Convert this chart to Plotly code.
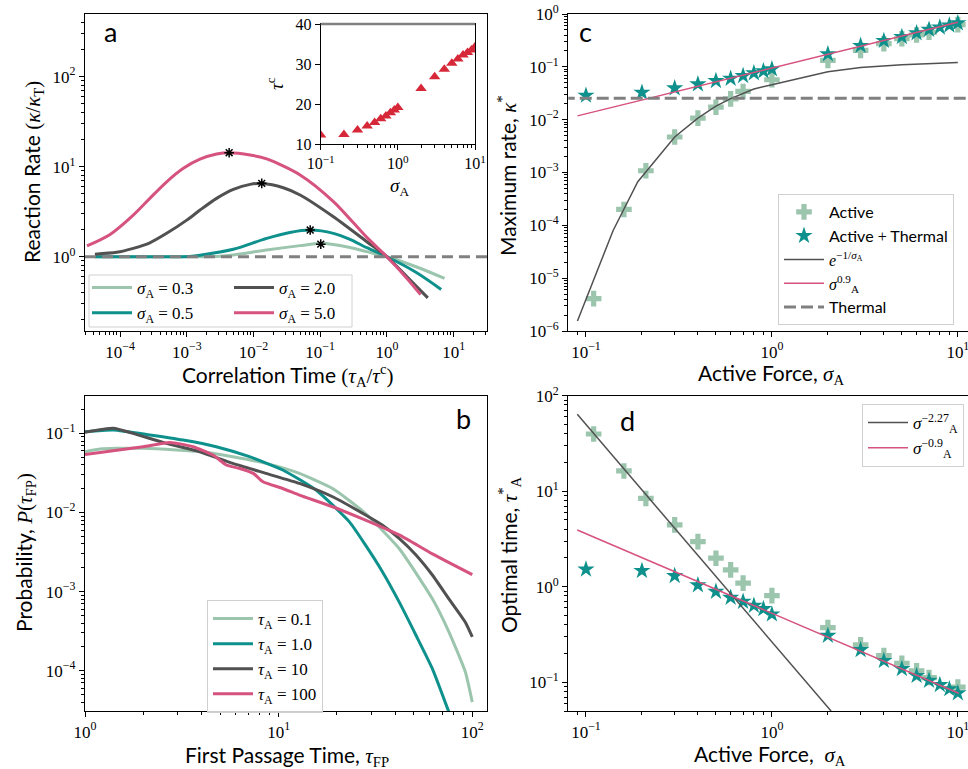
import plotly.graph_objects as go

W, H = 968, 769
SERIF = "Liberation Serif"
SANS = "Lato"

SAGE = "#9cc5ae"
TEAL = "#0e918c"
GRAY = "#515151"
PINK = "#d6527f"
RED = "#d62839"
DASHC = "#808080"

# ---------------- panel a: reaction rate vs correlation time ----------------
a_sigma_labels = ["0.3", "0.5", "2.0", "5.0"]
a_x_s03 = [4.2e-5, 1.0e-3, 2.8e-3, 4.5e-3, 1.58e-2, 5.0e-2, 0.1, 0.158, 0.28, 0.5, 1.0, 2.8, 7.3]
a_y_s03 = [1.0, 1.0, 1.01, 1.04, 1.19, 1.33, 1.41, 1.37, 1.27, 1.14, 1.0, 0.77, 0.575]
a_x_s05 = [4.2e-5, 1.1e-3, 1.58e-3, 5.0e-3, 1.58e-2, 3.5e-2, 7.1e-2, 0.158, 0.28, 0.5, 1.0, 2.8, 6.5]
a_y_s05 = [1.0, 1.01, 1.04, 1.21, 1.6, 1.86, 1.98, 1.82, 1.56, 1.26, 1.0, 0.665, 0.434]
a_x_s20 = [4.2e-5, 8.9e-5, 1.58e-4, 2.8e-4, 5.0e-4, 1.0e-3, 1.58e-3, 2.8e-3, 5.0e-3, 8.9e-3,
           1.33e-2, 2.8e-2, 5.0e-2, 0.158, 0.5, 1.0, 2.0, 4.1]
a_y_s20 = [1.07, 1.12, 1.24, 1.43, 1.82, 2.55, 3.3, 4.45, 5.6, 6.36,
           6.5, 5.84, 4.85, 2.78, 1.47, 1.0, 0.6, 0.35]
a_x_s50 = [3.2e-5, 7.1e-5, 1.58e-4, 2.8e-4, 5.0e-4, 8.9e-4, 1.58e-3, 2.8e-3, 4.3e-3, 8.9e-3,
           1.58e-2, 5.0e-2, 0.158, 0.5, 1.0, 2.0, 3.2]
a_y_s50 = [1.32, 1.77, 2.9, 4.45, 6.8, 9.6, 12.1, 13.8, 14.3, 13.5,
           12.2, 8.1, 4.1, 1.64, 1.0, 0.575, 0.38]
a_peak_x = [0.102, 0.0708, 0.0133, 0.00432]
a_peak_y = [1.38, 1.98, 6.53, 14.3]
a_thermal = 1.0

# inset: crossover time vs active force
inset_sigma = [0.1, 0.2, 0.3, 0.4, 0.5, 0.6, 0.7, 0.8, 0.9, 1.0, 2, 3, 4, 5, 6, 7, 8, 9, 10]
inset_tau_c = [12.25, 12.4, 13.5, 14.5, 15.4, 16.3, 17.0, 17.8, 18.5, 19.1,
               23.9, 26.8, 28.7, 30.2, 31.25, 32.25, 32.9, 33.5, 34.3]

# ---------------- panel b: first passage time distributions ----------------
b_tau_labels = ["0.1", "1.0", "10", "100"]
b_x_t01 = [1, 1.2, 1.46, 2.0, 2.97, 3.9, 5.8, 8.6, 12.8, 19, 28.1, 41.9, 62.2, 75.7, 92.1, 100]
b_y_t01 = [0.0586, 0.0634, 0.0646, 0.0646, 0.0617, 0.0589, 0.0507, 0.0417, 0.0312, 0.0201,
           0.0097, 0.0035, 8.1e-4, 3.1e-4, 9.6e-5, 4.0e-5]
b_x_t1 = [1, 1.4, 2.16, 3.21, 4.76, 7.07, 10.5, 15.6, 23.2, 28.1, 34.4, 41.9, 51.2, 62.2, 75.7, 83]
b_y_t1 = [0.105, 0.110, 0.0955, 0.0824, 0.0678, 0.0507, 0.0344, 0.0192, 0.0076, 0.00386,
          0.00177, 7.4e-4, 2.8e-4, 1.06e-4, 3.0e-5, 1.66e-5]
b_x_t10 = [1, 1.4, 1.77, 2.63, 3.91, 5.8, 8.6, 12.8, 19, 28.1, 34.4, 41.9, 51.2, 62.2, 75.7, 92.1, 100]
b_y_t10 = [0.103, 0.116, 0.1, 0.0746, 0.0586, 0.0417, 0.0312, 0.0233, 0.0158, 0.0093,
           0.0069, 0.0047, 0.0029, 0.00162, 8.1e-4, 4.1e-4, 2.67e-4]
b_x_t100 = [1, 1.46, 2.0, 2.74, 3.61, 4.58, 5.37, 6.3, 7.4, 8.3, 10.5, 12.8, 19, 28.1, 41.9, 62.2, 100]
b_y_t100 = [0.054, 0.061, 0.0678, 0.0769, 0.0678, 0.0532, 0.0398, 0.036, 0.0312, 0.0244,
            0.0201, 0.0166, 0.0118, 0.0080, 0.0052, 0.0030, 0.00164]

# ---------------- panel c: maximum rate vs active force ----------------
active_sigma = [0.11, 0.16, 0.21, 0.3, 0.4, 0.5, 0.6, 0.7, 1.0, 2, 3, 4, 5, 6, 7, 10]
active_kappa = [4.1e-6, 2.0e-4, 1.08e-3, 4.7e-3, 1.07e-2, 1.72e-2, 2.48e-2, 3.42e-2, 5.7e-2,
                0.132, 0.205, 0.274, 0.34, 0.40, 0.45, 0.63]
both_sigma = [0.1, 0.2, 0.3, 0.4, 0.5, 0.6, 0.7, 0.8, 0.9, 1.0, 2, 3, 4, 5, 6, 7, 8, 9, 10]
both_kappa = [0.0287, 0.0327, 0.0395, 0.047, 0.0544, 0.060, 0.0676, 0.076, 0.083, 0.0906,
              0.174, 0.251, 0.312, 0.37, 0.436, 0.505, 0.558, 0.609, 0.675]
arrh_sigma = [0.09, 0.14, 0.19, 0.3, 0.4, 0.5, 0.6, 0.7, 0.8, 1.0, 2, 3, 5, 10]
arrh_kappa = [1.55e-6, 8.0e-5, 6.7e-4, 4.7e-3, 1.07e-2, 1.8e-2, 2.5e-2, 3.1e-2, 3.8e-2, 4.6e-2,
              8.1e-2, 9.7e-2, 0.11, 0.121]
pow_sigma = [0.09, 10.0]
pow_kappa = [0.0118, 0.695]
thermal_kappa = 0.0255

# ---------------- panel d: optimal time vs active force ----------------
active_tau = [39.7, 16.3, 8.4, 4.44, 2.97, 1.99, 1.50, 1.09, 0.807,
              0.373, 0.246, 0.19, 0.158, 0.132, 0.112, 0.089]
both_tau = [1.52, 1.47, 1.30, 1.04, 0.89, 0.77, 0.70, 0.635, 0.586, 0.515,
            0.308, 0.218, 0.168, 0.138, 0.117, 0.104, 0.094, 0.085, 0.077]
fit227_sigma = [0.0898, 2.08]
fit227_tau = [63.8, 0.05]
fit09_sigma = [0.0898, 10.1]
fit09_tau = [3.93, 0.0767]


def X(px):
    return px / W


def Y(py):
    return 1 - py / H


def sup(e):
    return "10<sup>" + (("\u2212" + str(-e)) if e < 0 else str(e)) + "</sup>"


def log_axis(lo_dec, hi_dec, rng, domain, anchor, label_size=17):
    majors = [10.0 ** e for e in range(lo_dec, hi_dec + 1)]
    minors = [m * 10.0 ** e for e in range(lo_dec - 1, hi_dec + 1) for m in range(2, 10)]
    return dict(
        type="log", range=rng, domain=domain, anchor=anchor,
        tickmode="array", tickvals=majors, ticktext=[sup(e) for e in range(lo_dec, hi_dec + 1)],
        ticks="outside", ticklen=5, tickwidth=1.2, tickcolor="black",
        minor=dict(tickmode="array", tickvals=minors, ticks="outside", ticklen=3,
                   tickwidth=1, tickcolor="black", showgrid=False),
        showline=True, linecolor="black", linewidth=1.2, mirror=True,
        showgrid=False, zeroline=False, automargin=False, ticklabeloverflow="allow",
        tickfont=dict(family=SERIF, size=label_size, color="black"),
    )


fig = go.Figure()

# ----- panel a traces -----
a_series = [(a_x_s03, a_y_s03, SAGE, "legend", 1), (a_x_s05, a_y_s05, TEAL, "legend", 2),
            (a_x_s20, a_y_s20, GRAY, "legend2", 3), (a_x_s50, a_y_s50, PINK, "legend2", 4)]
for (xs, ys, col, lg, rk), lab in zip(a_series, a_sigma_labels):
    fig.add_trace(go.Scatter(x=xs, y=ys, mode="lines", line=dict(color=col, width=3, shape="spline", smoothing=0.8),
                             name="<i>σ</i><sub>A</sub> = " + lab, legend=lg, legendrank=rk,
                             xaxis="x", yaxis="y"))
fig.add_trace(go.Scatter(x=[2.98e-5, 31.6], y=[a_thermal, a_thermal], mode="lines",
                         line=dict(color=DASHC, width=3, dash="11px,6px"), showlegend=False,
                         xaxis="x", yaxis="y"))
fig.add_trace(go.Scatter(x=a_peak_x, y=a_peak_y, mode="markers",
                         marker=dict(symbol="asterisk-open", size=8, color="black",
                                     line=dict(color="black", width=1.5)),
                         showlegend=False, xaxis="x", yaxis="y"))

# inset
fig.add_trace(go.Scatter(x=inset_sigma, y=inset_tau_c, mode="markers",
                         marker=dict(symbol="triangle-up", size=10, color=RED),
                         showlegend=False, xaxis="x5", yaxis="y5"))

# ----- panel b traces -----
b_series = [(b_x_t01, b_y_t01, SAGE), (b_x_t1, b_y_t1, TEAL), (b_x_t10, b_y_t10, GRAY), (b_x_t100, b_y_t100, PINK)]
for (xs, ys, col), lab in zip(b_series, b_tau_labels):
    fig.add_trace(go.Scatter(x=xs, y=ys, mode="lines", line=dict(color=col, width=3, shape="spline", smoothing=0.5),
                             name="<i>τ</i><sub>A</sub> = " + lab, legend="legend3",
                             xaxis="x2", yaxis="y2"))

# ----- panel c traces -----
fig.add_trace(go.Scatter(x=active_sigma, y=active_kappa, mode="markers", name="Active",
                         marker=dict(symbol="cross", size=13, color=SAGE), legend="legend4",
                         xaxis="x3", yaxis="y3"))
fig.add_trace(go.Scatter(x=both_sigma, y=both_kappa, mode="markers",
                         name="Active <span style='font-family:Liberation Serif'>+</span> Thermal",
                         marker=dict(symbol="star", size=13, color=TEAL), legend="legend4",
                         xaxis="x3", yaxis="y3"))
fig.add_trace(go.Scatter(x=arrh_sigma, y=arrh_kappa, mode="lines",
                         name="<span style='font-family:Liberation Serif'><i>e</i><sup>−1/<i>σ</i><sub>A</sub></sup></span>",
                         line=dict(color=GRAY, width=1.5), legend="legend4", xaxis="x3", yaxis="y3"))
fig.add_trace(go.Scatter(x=pow_sigma, y=pow_kappa, mode="lines",
                         name="<span style='font-family:Liberation Serif'><i>σ</i><sup>0.9</sup><sub>A</sub></span>",
                         line=dict(color=PINK, width=1.5), legend="legend4", xaxis="x3", yaxis="y3"))
fig.add_trace(go.Scatter(x=[0.075, 12.0], y=[thermal_kappa, thermal_kappa], mode="lines", name="Thermal",
                         line=dict(color=DASHC, width=3, dash="12px,5px"), legend="legend4",
                         xaxis="x3", yaxis="y3"))

# ----- panel d traces -----
fig.add_trace(go.Scatter(x=active_sigma, y=active_tau, mode="markers", showlegend=False,
                         marker=dict(symbol="cross", size=13, color=SAGE), xaxis="x4", yaxis="y4"))
fig.add_trace(go.Scatter(x=both_sigma, y=both_tau, mode="markers", showlegend=False,
                         marker=dict(symbol="star", size=13, color=TEAL), xaxis="x4", yaxis="y4"))
fig.add_trace(go.Scatter(x=fit227_sigma, y=fit227_tau, mode="lines", name="<i>σ</i><sup>−2.27</sup><sub>A</sub>",
                         line=dict(color=GRAY, width=1.5), legend="legend5", xaxis="x4", yaxis="y4"))
fig.add_trace(go.Scatter(x=fit09_sigma, y=fit09_tau, mode="lines", name="<i>σ</i><sup>−0.9</sup><sub>A</sub>",
                         line=dict(color=PINK, width=1.5), legend="legend5", xaxis="x4", yaxis="y4"))

dom_left = [X(85), X(487)]
dom_right = [X(568.3), 0.9995]
dom_top = [Y(331), Y(14)]
dom_bot = [Y(711), Y(395.7)]

inset_x = log_axis(-1, 1, [-1, 1], [X(320.7), X(475)], "y5", label_size=16)
inset_y = dict(range=[10, 40], domain=[Y(144), Y(24)], anchor="x5", tickvals=[10, 20, 30, 40],
               ticks="outside", ticklen=5, tickwidth=1.2, tickcolor="black",
               showline=True, linecolor="black", linewidth=1.2, mirror=True,
               showgrid=False, zeroline=False, automargin=False,
               tickfont=dict(family=SERIF, size=16, color="black"))

legend_common = dict(bgcolor="rgba(0,0,0,0)", borderwidth=0, xanchor="left", yanchor="top",
                     font=dict(family=SERIF, size=17, color="black"), tracegroupgap=0, itemwidth=40)
boxed = dict(bgcolor="rgba(255,255,255,0.8)", bordercolor="#d0d0d0", borderwidth=1)

fig.update_layout(
    width=W, height=H, margin=dict(l=0, r=0, t=0, b=0),
    paper_bgcolor="white", plot_bgcolor="white",
    xaxis=log_axis(-4, 1, [-4.525, 1.5], dom_left, "y"),
    yaxis=log_axis(0, 2, [-0.824, 2.695], dom_top, "x"),
    xaxis2=log_axis(0, 2, [0, 2.076], dom_left, "y2"),
    yaxis2=log_axis(-4, -1, [-4.51, -0.524], dom_bot, "x2"),
    xaxis3=log_axis(-1, 1, [-1.095, 1.052], dom_right, "y3"),
    yaxis3=log_axis(-6, 0, [-6, 0], dom_top, "x3"),
    xaxis4=log_axis(-1, 1, [-1.095, 1.052], dom_right, "y4"),
    yaxis4=log_axis(-1, 2, [-1.301, 2], dom_bot, "x4"),
    xaxis5=inset_x, yaxis5=inset_y,
    legend=dict(legend_common, x=X(87), y=Y(270)),
    legend2=dict(legend_common, x=X(229), y=Y(270)),
    legend3=dict(legend_common, **boxed, x=X(207), y=Y(600)),
    legend4=dict(legend_common, **boxed, x=X(778), y=Y(194),
                 font=dict(family=SANS, size=16, color="black")),
    legend5=dict(legend_common, **boxed, x=X(862), y=Y(404)),
    showlegend=True,
)

shapes = [
    # legend frame for panel a
    dict(type="rect", xref="paper", yref="paper", x0=X(89), x1=X(352), y0=Y(327), y1=Y(275),
         line=dict(color="#d0d0d0", width=1), fillcolor="rgba(255,255,255,0.8)", layer="above"),
    # inset top edge
    dict(type="line", xref="x5 domain", yref="y5 domain", x0=0, x1=1, y0=1, y1=1,
         line=dict(color=DASHC, width=2.5), layer="above"),
]
fig.update_layout(shapes=shapes)

ann = []


def txt(x, y, text, size=21, angle=0, family=SANS):
    ann.append(dict(x=X(x), y=Y(y), xref="paper", yref="paper", text=text, showarrow=False,
                    xanchor="center", yanchor="middle", textangle=angle,
                    font=dict(family=family, size=size, color="black")))


M = "<span style='font-family:Liberation Serif'>"
txt(287, 375, "Correlation Time " + M + "(<i>τ</i><sub>A</sub>/<i>τ</i><sup>c</sup>)</span>")
txt(33, 172, "Reaction Rate " + M + "(<i>κ</i>/<i>κ</i><sub>T</sub>)</span>", angle=-90)
txt(287, 756, "First Passage Time, " + M + "<i>τ</i><sub>FP</sub></span>")
txt(25, 553, "Probability, " + M + "<i>P</i>(<i>τ</i><sub>FP</sub>)</span>", angle=-90)
txt(771, 374, "Active Force, " + M + "<i>σ</i><sub>A</sub></span>")
txt(507, 175, "Maximum rate, " + M + "<i>κ</i><sup>*</sup></span>", angle=-90)
txt(770, 755, "Active Force,  " + M + "<i>σ</i><sub>A</sub></span>")
txt(509, 555, "Optimal time, " + M + "<i>τ</i><sup>*</sup><sub>A</sub></span>", angle=-90)
txt(399, 187, "<i>σ</i><sub>A</sub>", size=19, family=SERIF)
txt(275, 84, "<i>τ</i><sup>c</sup>", size=19, angle=-90, family=SERIF)
txt(110, 32, "a", size=27)
txt(585, 32, "c", size=27)
txt(463, 418, "b", size=27)
txt(627, 420, "d", size=27)
fig.update_layout(annotations=ann)

fig.write_html("out.html")
